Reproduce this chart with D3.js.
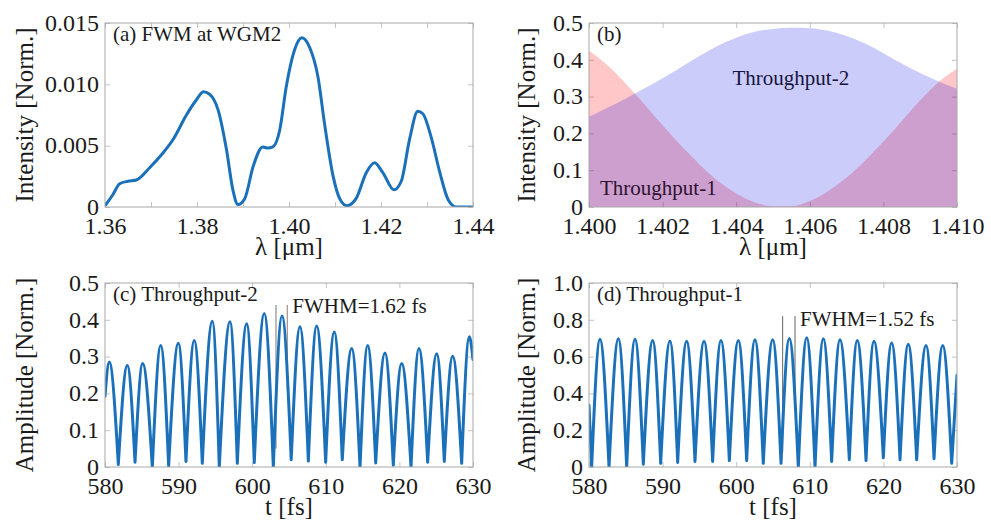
<!DOCTYPE html>
<html>
<head>
<meta charset="utf-8">
<script src="https://cdn.jsdelivr.net/npm/d3@7"></script>
<style>
body { margin: 0; background: #fff; }
svg text { font-family: "Liberation Serif", "Times New Roman", serif; fill: #1a1a1a; }
</style>
</head>
<body>
<div id="chart"></div>
<script>
// (a) FWM spectrum at WGM2
var lambdaA = [1.3600, 1.3617, 1.3632, 1.3650, 1.3668, 1.3697, 1.3726, 1.3748, 1.3777, 1.3798, 1.3814, 1.3827, 1.3846, 1.3864, 1.3878, 1.3889,
	1.3904, 1.3922, 1.3943, 1.3954, 1.3965, 1.3980, 1.3994, 1.4012, 1.4028, 1.4045, 1.4063, 1.4078, 1.4096, 1.4110, 1.4126, 1.4146,
	1.4168, 1.4186, 1.4204, 1.4228, 1.4244, 1.4262, 1.4280, 1.4291, 1.4309, 1.4328, 1.4346, 1.4364, 1.4400];
var fwmA = [0.0001, 0.0010, 0.0019, 0.0021, 0.0022, 0.0032, 0.0044, 0.0055, 0.0075, 0.0087, 0.0094, 0.0092, 0.0079, 0.0047, 0.0014, 0.0002,
	0.0007, 0.0033, 0.0049, 0.0048, 0.0049, 0.0063, 0.0098, 0.0128, 0.0138, 0.0130, 0.0106, 0.0066, 0.0025, 0.0007, 0.0001, 0.0007,
	0.0028, 0.0036, 0.0028, 0.0014, 0.0021, 0.0055, 0.0078, 0.0076, 0.0057, 0.0028, 0.0006, 0.0000, 0.0000];

// (b) throughput spectra
var lambdaB = [1.4000, 1.4005, 1.4010, 1.4015, 1.4020, 1.4025, 1.4030, 1.4035, 1.4040, 1.4045, 1.4050,
	1.4055, 1.4060, 1.4065, 1.4070, 1.4075, 1.4080, 1.4085, 1.4090, 1.4095, 1.4100];
var through1B = [0.425, 0.385, 0.335, 0.280, 0.222, 0.167, 0.116, 0.071, 0.037, 0.013, 0.002,
	0.002, 0.016, 0.043, 0.080, 0.126, 0.178, 0.234, 0.290, 0.340, 0.376];
var through2B = [0.245, 0.270, 0.295, 0.322, 0.350, 0.380, 0.410, 0.438, 0.460, 0.476, 0.484,
	0.487, 0.486, 0.479, 0.465, 0.444, 0.418, 0.390, 0.364, 0.341, 0.321];

// (c) Throughput-2 in time
var edgeC = [[580, 0.192], [630, 0.292]];
var tPeakC = [580.58, 583.03, 585.12, 587.57, 589.96, 592.13, 594.58, 596.98, 599.25, 601.64, 604.05,
	606.49, 608.76, 611.15, 613.52, 615.69, 618.04, 620.31, 622.66, 625.07, 627.24, 629.50];
var aPeakC = [0.285, 0.276, 0.281, 0.330, 0.336, 0.344, 0.396, 0.395, 0.389, 0.417, 0.410,
	0.381, 0.383, 0.367, 0.322, 0.330, 0.310, 0.281, 0.322, 0.308, 0.301, 0.354];
var tValleyC = [581.81, 584.08, 586.43, 588.65, 591.00, 593.22, 595.53, 597.98, 600.28, 602.87, 605.30,
	607.63, 609.98, 612.24, 614.65, 616.78, 619.17, 621.58, 623.84, 626.10, 628.46];
var aValleyC = [0.007, 0.013, 0.000, 0.003, 0.015, 0.010, 0.000, 0.010, 0.012, 0.000, 0.020,
	0.016, 0.013, 0.020, 0.000, 0.011, 0.005, 0.000, 0.013, 0.015, 0.010];
var fwhmC = [[603.23, 0.44, 0.05], [604.77, 0.44, 0.21]];

// (d) Throughput-1 in time
var edgeD = [[580, 0.335], [630, 0.498]];
var tPeakD = [581.49, 583.99, 586.25, 588.65, 591.00, 593.27, 595.63, 597.93, 600.29, 602.55, 604.96,
	607.22, 609.58, 611.84, 614.10, 616.45, 618.72, 621.12, 623.38, 625.79, 628.06];
var aPeakD = [0.694, 0.697, 0.694, 0.688, 0.685, 0.683, 0.683, 0.688, 0.688, 0.692, 0.692,
	0.699, 0.703, 0.697, 0.692, 0.688, 0.683, 0.674, 0.667, 0.661, 0.661];
var tValleyD = [580.36, 582.72, 585.12, 587.38, 589.74, 592.05, 594.40, 596.80, 599.07, 601.42, 603.68,
	606.09, 608.44, 610.71, 612.97, 615.37, 617.64, 619.99, 622.26, 624.52, 626.88, 629.28];
var aValleyD = [0.000, 0.000, 0.000, 0.015, 0.020, 0.025, 0.030, 0.030, 0.035, 0.035, 0.020,
	0.020, 0.000, 0.000, 0.030, 0.040, 0.035, 0.050, 0.040, 0.040, 0.045, 0.020];
var fwhmD = [[606.30, 0.82, 0.08], [607.99, 0.82, 0.30]];

// ticks
var xTickA = [1.36, 1.38, 1.40, 1.42, 1.44], xTickLabA = ["1.36", "1.38", "1.40", "1.42", "1.44"];
var xMinorA = [1.37, 1.39, 1.41, 1.43];
var yTickA = [0, 0.005, 0.010, 0.015], yTickLabA = ["0", "0.005", "0.010", "0.015"];
var xTickB = [1.400, 1.402, 1.404, 1.406, 1.408, 1.410], xTickLabB = ["1.400", "1.402", "1.404", "1.406", "1.408", "1.410"];
var yTickB = [0, 0.1, 0.2, 0.3, 0.4, 0.5], yTickLabB = ["0", "0.1", "0.2", "0.3", "0.4", "0.5"];
var xTickT = [580, 590, 600, 610, 620, 630], xTickLabT = ["580", "590", "600", "610", "620", "630"];
var yTickC = [0, 0.1, 0.2, 0.3, 0.4, 0.5], yTickLabC = ["0", "0.1", "0.2", "0.3", "0.4", "0.5"];
var yTickD = [0, 0.2, 0.4, 0.6, 0.8, 1.0], yTickLabD = ["0", "0.2", "0.4", "0.6", "0.8", "1.0"];

var lineBlue = "#1b70ba";

var svg = d3.select("#chart").append("svg")
	.attr("width", 991)
	.attr("height", 522);

function makePanel(id, box, xDomain, yDomain, xt, xl, xMinor, yt, yl, xTitle, yTitle, yTitleOff) {
	var x = d3.scaleLinear().domain(xDomain).range([box.left, box.right]);
	var y = d3.scaleLinear().domain(yDomain).range([box.bottom, box.top]);

	svg.append("clipPath").attr("id", "clip" + id)
		.append("rect")
		.attr("x", box.left).attr("y", box.top)
		.attr("width", box.right - box.left).attr("height", box.bottom - box.top);

	var allX = xt.concat(xMinor);
	svg.append("g").attr("transform", "translate(0," + box.bottom + ")")
		.call(d3.axisBottom(x).tickValues(xt).tickFormat(function(d, i) { return xl[i]; }).tickSize(-5).tickPadding(10));
	svg.append("g").attr("transform", "translate(0," + box.top + ")")
		.call(d3.axisTop(x).tickValues(allX).tickFormat("").tickSize(-5));
	svg.append("g").attr("transform", "translate(0," + box.bottom + ")")
		.call(d3.axisBottom(x).tickValues(xMinor).tickFormat("").tickSize(-5));
	var left = svg.append("g").attr("transform", "translate(" + box.left + ",0)")
		.call(d3.axisLeft(y).tickValues(yt).tickFormat(function(d, i) { return yl[i]; }).tickSize(-5).tickPadding(6));
	svg.append("g").attr("transform", "translate(" + box.right + ",0)")
		.call(d3.axisRight(y).tickValues(yt).tickFormat("").tickSize(-5));

	svg.selectAll(".domain").remove();
	svg.selectAll(".tick line").attr("stroke", "#c4c4c4");
	svg.selectAll(".tick text")
		.attr("font-family", "Liberation Serif, Times New Roman, serif")
		.attr("font-size", 24)
		.attr("fill", "#222");
	left.selectAll("text").attr("dy", "0.3em");

	svg.append("text")
		.attr("x", (box.left + box.right) / 2)
		.attr("y", box.bottom + 48)
		.attr("text-anchor", "middle")
		.attr("font-size", 25)
		.text(xTitle);

	svg.append("text")
		.attr("transform", "translate(" + (box.left - yTitleOff) + "," + ((box.top + box.bottom) / 2) + ") rotate(-90)")
		.attr("text-anchor", "middle")
		.attr("dy", "0.35em")
		.attr("font-size", 25)
		.text(yTitle);

	return { x: x, y: y, box: box, clip: "url(#clip" + id + ")" };
}

function drawFrame(p) {
	svg.append("rect")
		.attr("x", p.box.left).attr("y", p.box.top)
		.attr("width", p.box.right - p.box.left).attr("height", p.box.bottom - p.box.top)
		.attr("fill", "none")
		.attr("stroke", "#a8a8a8")
		.attr("stroke-width", 1);
}

function panelLabel(p, txt) {
	svg.append("text")
		.attr("x", p.box.left + 8)
		.attr("y", p.box.top + 18)
		.attr("font-size", 21)
		.text(txt);
}

// split a pulse train into lobes valley -> peak -> valley so the cusps stay sharp
function lobesOf(edge, tPeak, aPeak, tValley, aValley) {
	var pts = [{ t: edge[0][0], a: edge[0][1] }];
	tPeak.forEach(function(t, i) { pts.push({ t: t, a: aPeak[i], peak: true }); });
	tValley.forEach(function(t, i) { pts.push({ t: t, a: aValley[i] }); });
	pts.push({ t: edge[1][0], a: edge[1][1] });
	pts.sort(function(p, q) { return p.t - q.t; });

	var lobes = [], cur = [pts[0]];
	for (var i = 1; i < pts.length; i++) {
		cur.push(pts[i]);
		if (!pts[i].peak) {
			lobes.push(cur);
			cur = [pts[i]];
		}
	}
	return lobes;
}

function drawTrain(p, lobes, fwhm, fwhmColors) {
	fwhm.forEach(function(f, i) {
		svg.append("line")
			.attr("x1", p.x(f[0])).attr("x2", p.x(f[0]))
			.attr("y1", p.y(f[1])).attr("y2", p.y(f[2]))
			.attr("stroke", fwhmColors[i])
			.attr("stroke-width", 1.2);
	});

	var line = d3.line()
		.x(function(d) { return p.x(d.t); })
		.y(function(d) { return p.y(d.a); })
		.curve(d3.curveMonotoneX);

	svg.append("path")
		.attr("d", lobes.map(function(l) { return line(l); }).join(""))
		.attr("clip-path", p.clip)
		.attr("fill", "none")
		.attr("stroke", lineBlue)
		.attr("stroke-width", 3)
		.attr("stroke-linejoin", "round")
		.attr("stroke-linecap", "round");
}

// ---- panel (a)
var pa = makePanel("a", { left: 105, right: 473, top: 23, bottom: 207 }, [1.36, 1.44], [0, 0.015],
	xTickA, xTickLabA, xMinorA, yTickA, yTickLabA, "λ [μm]", "Intensity [Norm.]", 81);

svg.append("path")
	.datum(lambdaA.map(function(l, i) { return [l, fwmA[i]]; }))
	.attr("clip-path", pa.clip)
	.attr("fill", "none")
	.attr("stroke", lineBlue)
	.attr("stroke-width", 3)
	.attr("d", d3.line()
		.x(function(d) { return pa.x(d[0]); })
		.y(function(d) { return pa.y(d[1]); })
		.curve(d3.curveMonotoneX));
drawFrame(pa);
panelLabel(pa, "(a) FWM at WGM2");

// ---- panel (b)
var pb = makePanel("b", { left: 589, right: 957, top: 23, bottom: 207 }, [1.400, 1.410], [0, 0.5],
	xTickB, xTickLabB, [], yTickB, yTickLabB, "λ [μm]", "Intensity [Norm.]", 63);

var areaB = function(vals) {
	return d3.area()
		.x(function(d, i) { return pb.x(lambdaB[i]); })
		.y0(pb.y(0))
		.y1(function(d) { return pb.y(d); })
		.curve(d3.curveMonotoneX)(vals);
};
svg.append("path").attr("d", areaB(through1B)).attr("fill", "rgb(255,0,0)").attr("fill-opacity", 0.22);
svg.append("path").attr("d", areaB(through2B)).attr("fill", "rgb(0,0,235)").attr("fill-opacity", 0.2);
drawFrame(pb);
panelLabel(pb, "(b)");
svg.append("text").attr("x", pb.x(1.4039)).attr("y", pb.y(0.331))
	.attr("font-size", 21).style("fill", "#15153f").text("Throughput-2");
svg.append("text").attr("x", pb.x(1.4003)).attr("y", pb.y(0.033))
	.attr("font-size", 21).style("fill", "#2e1230").text("Throughput-1");

// ---- panel (c)
var pc = makePanel("c", { left: 105, right: 473, top: 283, bottom: 467 }, [580, 630], [0, 0.5],
	xTickT, xTickLabT, [], yTickC, yTickLabC, "t [fs]", "Amplitude [Norm.]", 81);
drawTrain(pc, lobesOf(edgeC, tPeakC, aPeakC, tValleyC, aValleyC), fwhmC, ["#8e8e8e", "#a58f82"]);
drawFrame(pc);
panelLabel(pc, "(c) Throughput-2");
svg.append("text").attr("x", pc.x(fwhmC[1][0]) + 5).attr("y", pc.y(0.418))
	.attr("font-size", 21).text("FWHM=1.62 fs");

// ---- panel (d)
var pd = makePanel("d", { left: 589, right: 957, top: 283, bottom: 467 }, [580, 630], [0, 1.0],
	xTickT, xTickLabT, [], yTickD, yTickLabD, "t [fs]", "Amplitude [Norm.]", 63);
drawTrain(pd, lobesOf(edgeD, tPeakD, aPeakD, tValleyD, aValleyD), fwhmD, ["#7c7c7c", "#7c7c7c"]);
drawFrame(pd);
panelLabel(pd, "(d) Throughput-1");
svg.append("text").attr("x", pd.x(fwhmD[1][0]) + 5).attr("y", pd.y(0.769))
	.attr("font-size", 21).text("FWHM=1.52 fs");
</script>
</body>
</html>
